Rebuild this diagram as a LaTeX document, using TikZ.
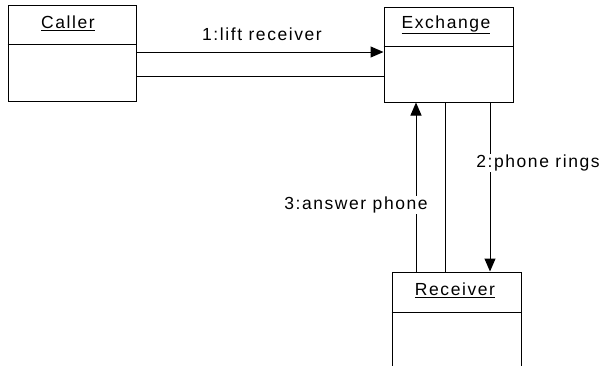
\documentclass[tikz,border=0pt]{standalone}
\usepackage{fontspec}
\setmainfont{Liberation Sans}[LetterSpace=9]
\usetikzlibrary{arrows.meta}
\tikzset{
  objbox/.style={draw=black, line width=1pt, fill=white, inner sep=0pt},
  objtitle/.style={inner sep=0pt, font=\fontsize{17.5}{19}\selectfont},
  msglabel/.style={fill=white, inner sep=1pt, font=\fontsize{17.5}{19}\selectfont},
  link/.style={draw=black, line width=1pt},
  msg/.style={link, -{Triangle[length=13pt,width=11pt]}},
}
\begin{document}
\begin{tikzpicture}[x=1pt,y=-1pt]
\useasboundingbox (0,0) rectangle (605,365);
\clip (0,0) rectangle (605,365);
% boxes
\node[objbox, minimum width=128pt, minimum height=96pt] (caller) at (72,53) {};
\node[objbox, minimum width=129pt, minimum height=95pt] (exchange) at (448.5,54.5) {};
\node[objbox, minimum width=129pt, minimum height=140pt] (receiver) at (456.5,342) {};
% dividers
\draw[link] (caller.west |- 0,44) -- (caller.east |- 0,44);
\draw[link] (exchange.west |- 0,46) -- (exchange.east |- 0,46);
\draw[link] (receiver.west |- 0,312) -- (receiver.east |- 0,312);
% titles
\node[objtitle] (callerT) at (68,23) {\underline{Caller}};
\node[objtitle] (exchangeT) at (446,25) {\underline{Exchange}};
\node[objtitle] (receiverT) at (455,290) {\underline{Receiver}};
% links
\draw[msg] (caller.east |- 0,52) -- (exchange.west |- 0,52);
\draw[link] (caller.east |- 0,76) -- (exchange.west |- 0,76);
\draw[msg] (receiver.north -| 416,0) -- (exchange.south -| 416,0);
\draw[link] (receiver.north -| 445,0) -- (exchange.south -| 445,0);
\draw[msg] (exchange.south -| 490,0) -- (receiver.north -| 490,0);
% labels
\node[msglabel] (l1) at (262,34) {1:lift receiver};
\node[msglabel] (l2) at (538,163) {2:phone rings};
\node[msglabel] (l3) at (356,205) {3:answer phone};
\end{tikzpicture}
\end{document}
